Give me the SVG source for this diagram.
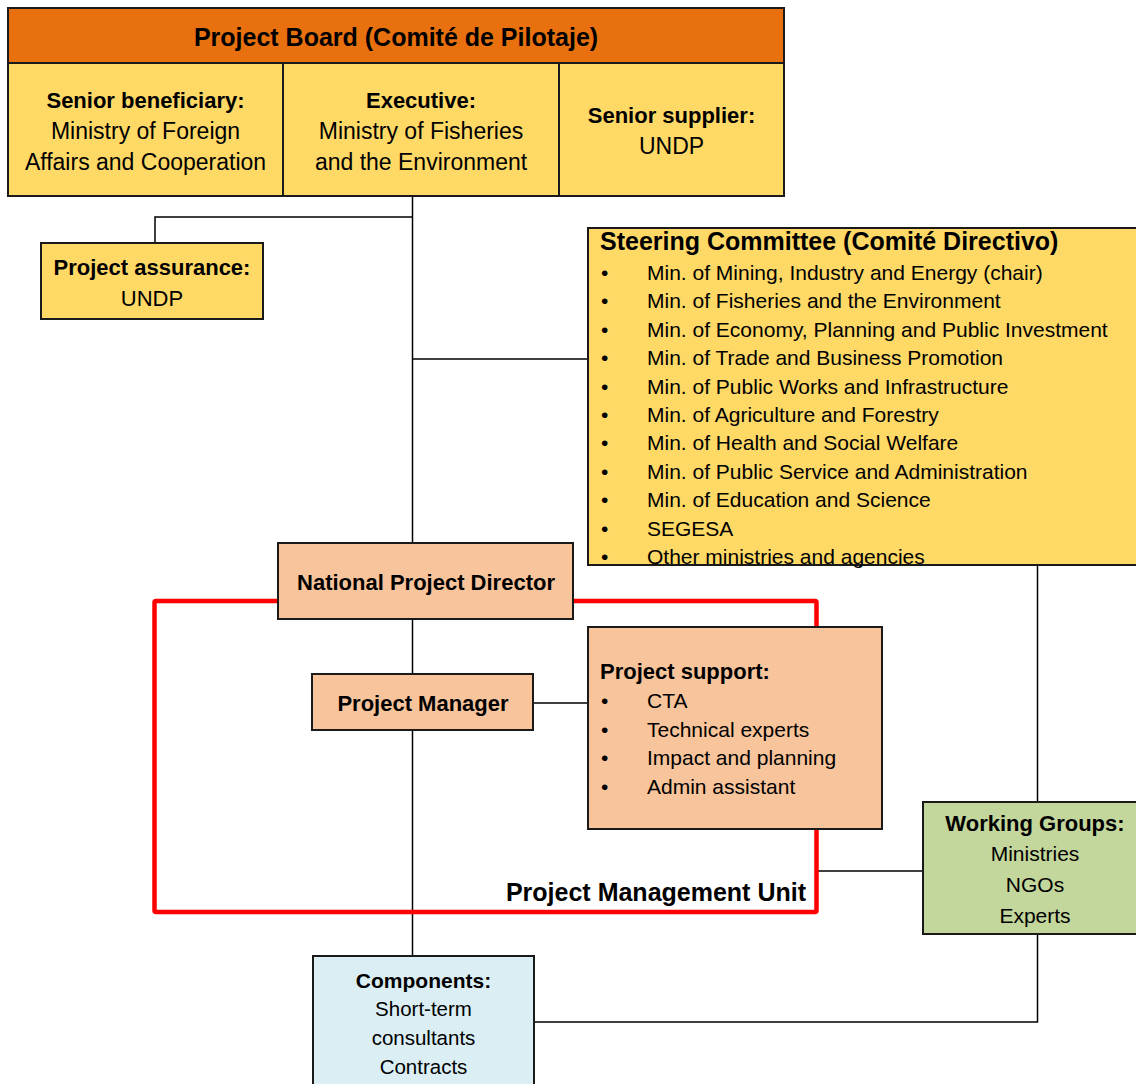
<svg xmlns="http://www.w3.org/2000/svg" width="1136" height="1084" viewBox="0 0 1136 1084">
<style>
text{font-family:"Liberation Sans",Arial,sans-serif;fill:#000}
.b{font-weight:bold}
.c{text-anchor:middle}
.box{stroke:#1a1a1a;stroke-width:2}
.yel{fill:#FFD966}
.peach{fill:#F8C49B}
.conn{stroke:#000;stroke-width:1.5;fill:none}
</style>
<rect width="1136" height="1084" fill="#fff"/>
<g id="connectors">
<path class="conn" d="M412.5,196 V543"/>
<path class="conn" d="M412.5,217 H155 V243"/>
<path class="conn" d="M412.5,359 H588"/>
<path class="conn" d="M412.5,619 V674"/>
<path class="conn" d="M412.5,730 V956"/>
<path class="conn" d="M533,703 H588"/>
<path class="conn" d="M1037.5,565 V802"/>
<path class="conn" d="M816,871 H923"/>
<path class="conn" d="M534,1022 H1037.5 V934"/>
</g>
<g id="pmu">
<rect x="154.5" y="601" width="662" height="311" fill="none" stroke="#FF0000" stroke-width="4.5" rx="1.5"/>
<text class="b" x="806" y="901" font-size="25" text-anchor="end">Project Management Unit</text>
</g>
<g id="project-board">
<rect class="box" x="8" y="8" width="776" height="55" fill="#E8700E"/>
<text class="b c" x="396" y="46" font-size="25">Project Board (Comité de Pilotaje)</text>
<rect class="box yel" x="8" y="63" width="275" height="133"/>
<rect class="box yel" x="283" y="63" width="276" height="133"/>
<rect class="box yel" x="559" y="63" width="225" height="133"/>
<text class="b c" x="145.5" y="108" font-size="22">Senior beneficiary:</text>
<text class="c" x="145.5" y="139" font-size="23">Ministry of Foreign</text>
<text class="c" x="145.5" y="170" font-size="23">Affairs and Cooperation</text>
<text class="b c" x="421" y="108" font-size="22">Executive:</text>
<text class="c" x="421" y="139" font-size="23">Ministry of Fisheries</text>
<text class="c" x="421" y="170" font-size="23">and the Environment</text>
<text class="b c" x="671.5" y="123" font-size="22">Senior supplier:</text>
<text class="c" x="671.5" y="154" font-size="23">UNDP</text>
</g>
<g id="project-assurance">
<rect class="box yel" x="41" y="243" width="222" height="76"/>
<text class="b c" x="152" y="275" font-size="22">Project assurance:</text>
<text class="c" x="152" y="306" font-size="22">UNDP</text>
</g>
<g id="steering-committee">
<rect class="box yel" x="588" y="228" width="552" height="337"/>
<text class="b" x="600" y="250" font-size="25">Steering Committee (Comité Directivo)</text>
<g font-size="21">
<text x="601" y="280">•</text><text x="647" y="280">Min. of Mining, Industry and Energy (chair)</text>
<text x="601" y="308.4">•</text><text x="647" y="308.4">Min. of Fisheries and the Environment</text>
<text x="601" y="336.8">•</text><text x="647" y="336.8">Min. of Economy, Planning and Public Investment</text>
<text x="601" y="365.2">•</text><text x="647" y="365.2">Min. of Trade and Business Promotion</text>
<text x="601" y="393.6">•</text><text x="647" y="393.6">Min. of Public Works and Infrastructure</text>
<text x="601" y="422">•</text><text x="647" y="422">Min. of Agriculture and Forestry</text>
<text x="601" y="450.4">•</text><text x="647" y="450.4">Min. of Health and Social Welfare</text>
<text x="601" y="478.8">•</text><text x="647" y="478.8">Min. of Public Service and Administration</text>
<text x="601" y="507.2">•</text><text x="647" y="507.2">Min. of Education and Science</text>
<text x="601" y="535.6">•</text><text x="647" y="535.6">SEGESA</text>
<text x="601" y="564">•</text><text x="647" y="564">Other ministries and agencies</text>
</g>
</g>
<g id="national-project-director">
<rect class="box peach" x="278" y="543" width="295" height="76"/>
<text class="b c" x="426" y="590" font-size="22">National Project Director</text>
</g>
<g id="project-manager">
<rect class="box peach" x="312" y="674" width="221" height="56"/>
<text class="b c" x="423" y="711" font-size="22">Project Manager</text>
</g>
<g id="project-support">
<rect class="box peach" x="588" y="627" width="294" height="202"/>
<text class="b" x="600" y="679" font-size="22">Project support:</text>
<g font-size="21">
<text x="601" y="708">•</text><text x="647" y="708">CTA</text>
<text x="601" y="736.6">•</text><text x="647" y="736.6">Technical experts</text>
<text x="601" y="765.2">•</text><text x="647" y="765.2">Impact and planning</text>
<text x="601" y="793.8">•</text><text x="647" y="793.8">Admin assistant</text>
</g>
</g>
<g id="working-groups">
<rect class="box" x="923" y="802" width="217" height="132" fill="#C3D69B"/>
<text class="b c" x="1035" y="831" font-size="22">Working Groups:</text>
<text class="c" x="1035" y="861" font-size="21">Ministries</text>
<text class="c" x="1035" y="892" font-size="21">NGOs</text>
<text class="c" x="1035" y="923" font-size="21">Experts</text>
</g>
<g id="components">
<rect class="box" x="313" y="956" width="221" height="134" fill="#DAEEF3"/>
<text class="b c" x="423.5" y="988" font-size="21">Components:</text>
<text class="c" x="423.5" y="1016" font-size="20.5">Short-term</text>
<text class="c" x="423.5" y="1045" font-size="20.5">consultants</text>
<text class="c" x="423.5" y="1074" font-size="20.5">Contracts</text>
</g>
</svg>
